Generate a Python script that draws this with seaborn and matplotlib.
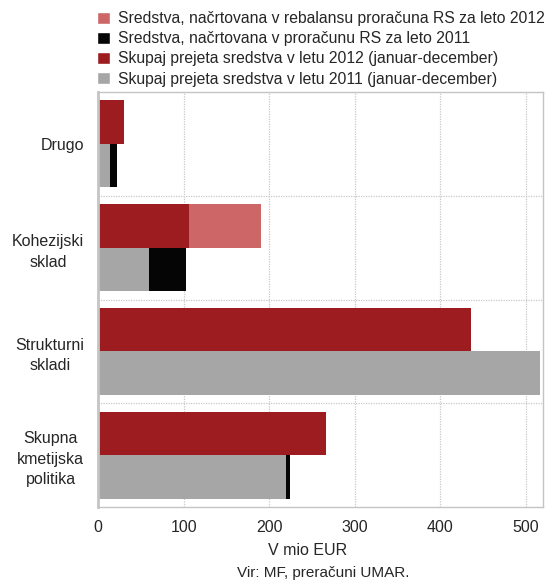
import matplotlib
matplotlib.use('Agg')
import matplotlib.pyplot as plt
from matplotlib.patches import Patch
import seaborn as sns
import pandas as pd

# --- Data ---
categories = ['Drugo', 'Kohezijski\nsklad', 'Strukturni\nskladi', 'Skupna\nkmetijska\npolitika']
years = ['2012', '2011']
received_2012 = [30, 106, 436, 267]
received_2011 = [14, 59.5, 517, 220]
# planned (where nothing is visible, planned == received)
planned_2012 = [30, 190, 436, 267]
planned_2011 = [22, 102.5, 517, 224]
x_ticks = [0, 100, 200, 300, 400, 500]

legend_labels = [
    'Sredstva, načrtovana v rebalansu proračuna RS za leto 2012',
    'Sredstva, načrtovana v proračunu RS za leto 2011',
    'Skupaj prejeta sredstva v letu 2012 (januar-december)',
    'Skupaj prejeta sredstva v letu 2011 (januar-december)',
]

df = pd.DataFrame({
    'kategorija': categories * 2,
    'leto': ['2012'] * 4 + ['2011'] * 4,
    'prejeto': received_2012 + received_2011,
    'plan': planned_2012 + planned_2011,
})

c_plan12 = '#cd6767'
c_plan11 = '#050505'
c_rec12 = '#9c1c20'
c_rec11 = '#a6a6a6'

# --- Setup ---
sns.set_theme(style='white')
plt.rcParams['font.family'] = ['Liberation Sans', 'DejaVu Sans']

fig = plt.figure(figsize=(5.55, 5.81), dpi=100)
ax = fig.add_axes([98 / 555, 1 - 507 / 581, 445 / 555, 415 / 581])

# planned bars first, received drawn on top of them
sns.barplot(data=df, y='kategorija', x='plan', hue='leto', hue_order=years,
            order=categories, palette=[c_plan12, c_plan11], width=0.84,
            errorbar=None, legend=False, ax=ax, linewidth=0, saturation=1)
sns.barplot(data=df, y='kategorija', x='prejeto', hue='leto', hue_order=years,
            order=categories, palette=[c_rec12, c_rec11], width=0.84,
            errorbar=None, legend=False, ax=ax, linewidth=0, saturation=1)

ax.set_xlim(0, 520)
ax.set_ylim(3.5, -0.5)
ax.set_xticks(x_ticks)
ax.set_xticklabels([str(t) for t in x_ticks], fontsize=11.5)
ax.set_yticks(range(len(categories)))
ax.set_yticklabels(categories, fontsize=11.5, multialignment='center', linespacing=1.45)
ax.tick_params(axis='both', length=0)
ax.tick_params(axis='x', pad=9)
ax.tick_params(axis='y', pad=10)

# grid: dotted lines at each 100 and between categories
for t in x_ticks[1:]:
    ax.axvline(t, color='#c8c8c8', linestyle=(0, (1, 1)), linewidth=0.9, zorder=0)
for b in [0.5, 1.5, 2.5]:
    ax.axhline(b, color='#c8c8c8', linestyle=(0, (1, 1)), linewidth=0.9, zorder=0)

for side, sp in ax.spines.items():
    sp.set_visible(True)
    sp.set_color('#c4c4c4')
    sp.set_linewidth(1.0)
ax.spines['left'].set_linewidth(2.0)

ax.set_ylabel('')
ax.set_xlabel('V mio EUR', fontsize=11.5, labelpad=0)
ax.xaxis.set_label_coords(0.472, -0.086)

handles = [Patch(facecolor=c) for c in [c_plan12, c_plan11, c_rec12, c_rec11]]
fig.legend(handles, legend_labels, loc='upper left', bbox_to_anchor=(0.155, 1.0),
           frameon=False, fontsize=11.3, handlelength=0.8, handleheight=0.8,
           handletextpad=0.55, labelspacing=0.33, borderaxespad=0.3)

fig.text(323 / 555, 1 - 573 / 581, 'Vir: MF, preračuni UMAR.', ha='center',
         va='center', fontsize=11)

plt.savefig('out.png', dpi=100)
plt.close()
